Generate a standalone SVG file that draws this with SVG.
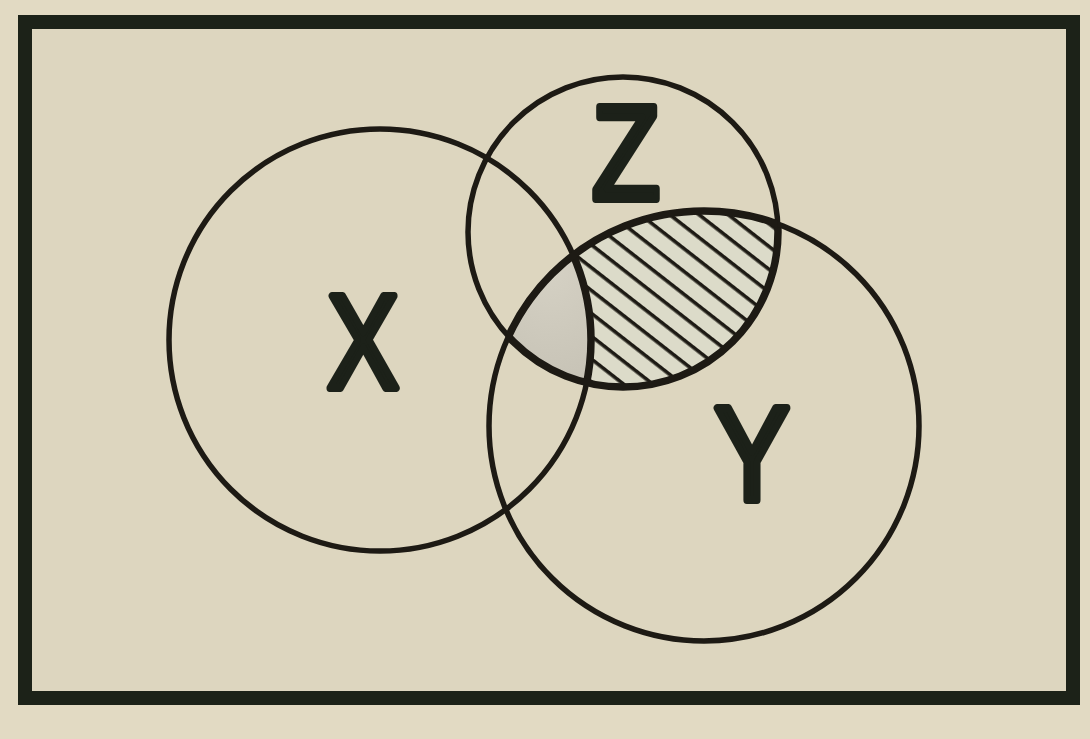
<svg xmlns="http://www.w3.org/2000/svg" width="1090" height="739" viewBox="0 0 1090 739">
  <style>
    .ring { fill: none; stroke: #1d1a14; stroke-width: 5.5; }
    .lens { fill: none; stroke: #1d1a14; stroke-width: 7.5; }
    .lbl { font-family: "Liberation Sans", Arial, sans-serif; font-size: 134px; fill: #1c2119; stroke: #1c2119; stroke-width: 8; stroke-linejoin: round; stroke-linecap: round; text-anchor: middle; }
  </style>
  <defs>
    <pattern id="hatch" patternUnits="userSpaceOnUse" width="18" height="18" patternTransform="rotate(38)">
      <rect x="0" y="0" width="18" height="18" fill="#dcdbc9"/>
      <rect x="0" y="7" width="18" height="3.6" fill="#1d1a14"/>
    </pattern>
    <radialGradient id="stip" cx="0.5" cy="0.5" r="0.6">
      <stop offset="0" stop-color="#d6d2c5"/>
      <stop offset="0.55" stop-color="#c6c2b5"/>
      <stop offset="1" stop-color="#9a968a"/>
    </radialGradient>
    <clipPath id="clipZ"><circle cx="623" cy="232" r="155"/></clipPath>
    <clipPath id="clipY"><circle cx="704" cy="426" r="215"/></clipPath>
    <clipPath id="clipX"><circle cx="380" cy="340" r="211"/></clipPath>
    <mask id="notX">
      <rect x="0" y="0" width="1090" height="739" fill="#fff"/>
      <circle cx="380" cy="340" r="211" fill="#000"/>
    </mask>
  </defs>

  <rect x="0" y="0" width="1090" height="739" fill="#e2dac3"/>
  <rect id="frame" x="25" y="22" width="1048" height="676" fill="#ddd6bf" stroke="#1c2218" stroke-width="14"/>

  <g id="regions">
    <g clip-path="url(#clipZ)">
      <g clip-path="url(#clipY)">
        <rect id="hatched" x="400" y="60" width="500" height="400" fill="url(#hatch)" mask="url(#notX)"/>
        <g clip-path="url(#clipX)">
          <rect id="shaded" x="400" y="60" width="300" height="400" fill="url(#stip)"/>
        </g>
      </g>
    </g>
  </g>

  <g id="node-X">
    <circle class="ring" cx="380" cy="340" r="211"/>
    <g clip-path="url(#clipZ)"><circle class="lens" cx="380" cy="340" r="211" clip-path="url(#clipY)"/></g>
    <text class="lbl" transform="translate(363,388) scale(0.8,1)">X</text>
  </g>
  <g id="node-Z">
    <circle class="ring" cx="623" cy="232" r="155"/>
    <circle class="lens" cx="623" cy="232" r="155" clip-path="url(#clipY)"/>
    <text class="lbl" transform="translate(626,199) scale(0.83,1)">Z</text>
  </g>
  <g id="node-Y">
    <circle class="ring" cx="704" cy="426" r="215"/>
    <circle class="lens" cx="704" cy="426" r="215" clip-path="url(#clipZ)"/>
    <text class="lbl" transform="translate(752,500) scale(0.84,1)">Y</text>
  </g>
  <g id="connectors"/>
</svg>
